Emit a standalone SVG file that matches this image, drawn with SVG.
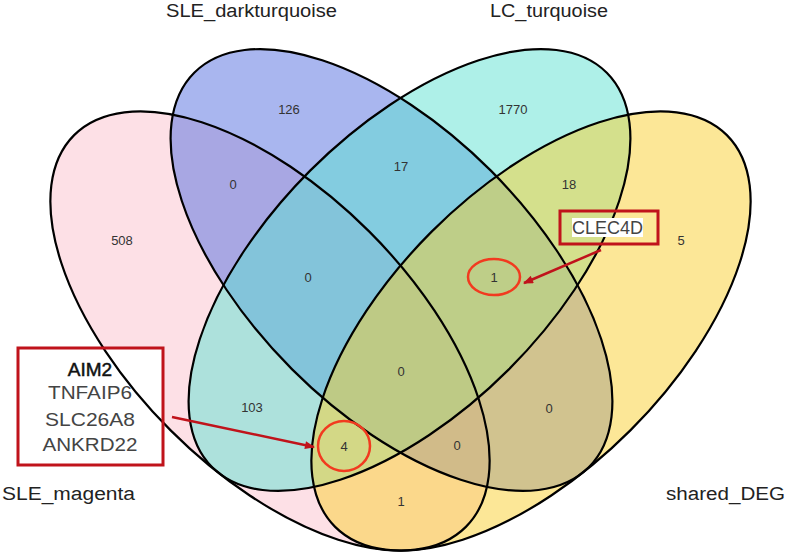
<svg xmlns="http://www.w3.org/2000/svg" width="788" height="556" viewBox="0 0 788 556">
  <defs>
    <style>
      .fill { fill-opacity: 0.5; stroke: none; }
      .edge { fill: none; stroke: #000; stroke-width: 2.2; }
      .num { font-family: "Liberation Sans", Arial, sans-serif; font-size: 13px; fill: #333; text-anchor: middle; }
      .set { font-family: "Liberation Sans", Arial, sans-serif; font-size: 18px; fill: #222; }
      .gene { font-family: "Liberation Sans", Arial, sans-serif; font-size: 19px; fill: #444; text-anchor: middle; }
      .strong { fill: #111; stroke: #111; stroke-width: 0.5; }
      .box { fill: none; stroke: #c0131b; stroke-width: 3; }
      .ring { fill: none; stroke: #f23a1f; stroke-width: 2.5; }
      .arrow { stroke: #c0131b; stroke-width: 2.5; fill: none; }
    </style>
    <marker id="ah" viewBox="0 0 10 8" refX="9" refY="4" markerWidth="11" markerHeight="8" markerUnits="userSpaceOnUse" orient="auto">
      <path d="M0,0 L10,4 L0,8 z" fill="#c0131b"/>
    </marker>
  </defs>

  <rect width="788" height="556" fill="#fff"/>

  <!-- fills -->
  <g id="fills">
    <ellipse class="fill" cx="270" cy="331" rx="277" ry="140.5" transform="rotate(45 270 331)" fill="#FBC1CD"/>
    <ellipse class="fill" cx="391.5" cy="270" rx="279" ry="140.5" transform="rotate(45 391.5 270)" fill="#536DDF"/>
    <ellipse class="fill" cx="409.5" cy="270" rx="279" ry="140.5" transform="rotate(-45 409.5 270)" fill="#5DE1D1"/>
    <ellipse class="fill" cx="531" cy="331" rx="277" ry="140.5" transform="rotate(-45 531 331)" fill="#FAD030"/>
  </g>

  <!-- white background of left annotation box -->
  <rect x="18" y="348" width="145" height="117" fill="#fff"/>

  <g id="SLE_magenta">
    <ellipse class="edge" cx="270" cy="331" rx="277" ry="140.5" transform="rotate(45 270 331)"/>
    <text class="set" x="2" y="500" textLength="133" lengthAdjust="spacingAndGlyphs">SLE_magenta</text>
  </g>
  <g id="SLE_darkturquoise">
    <ellipse class="edge" cx="391.5" cy="270" rx="279" ry="140.5" transform="rotate(45 391.5 270)"/>
    <text class="set" x="166" y="17" textLength="171" lengthAdjust="spacingAndGlyphs">SLE_darkturquoise</text>
  </g>
  <g id="LC_turquoise">
    <ellipse class="edge" cx="409.5" cy="270" rx="279" ry="140.5" transform="rotate(-45 409.5 270)"/>
    <text class="set" x="490" y="17" textLength="118" lengthAdjust="spacingAndGlyphs">LC_turquoise</text>
  </g>
  <g id="shared_DEG">
    <ellipse class="edge" cx="531" cy="331" rx="277" ry="140.5" transform="rotate(-45 531 331)"/>
    <text class="set" x="666" y="500" textLength="119" lengthAdjust="spacingAndGlyphs">shared_DEG</text>
  </g>

  <g id="counts">
    <text class="num" x="122" y="245">508</text>
    <text class="num" x="289" y="114">126</text>
    <text class="num" x="513" y="114">1770</text>
    <text class="num" x="681" y="245">5</text>
    <text class="num" x="233" y="189">0</text>
    <text class="num" x="401" y="171">17</text>
    <text class="num" x="569" y="189">18</text>
    <text class="num" x="308" y="282">0</text>
    <text class="num" x="494" y="282">1</text>
    <text class="num" x="401" y="376">0</text>
    <text class="num" x="252" y="412">103</text>
    <text class="num" x="549" y="413">0</text>
    <text class="num" x="344" y="451">4</text>
    <text class="num" x="457" y="450">0</text>
    <text class="num" x="401" y="506">1</text>
  </g>

  <g id="highlight-rings">
    <ellipse class="ring" cx="344" cy="446" rx="26" ry="25"/>
    <ellipse class="ring" cx="494" cy="277" rx="26" ry="18"/>
  </g>

  <g id="gene-box-left">
    <rect class="box" x="18" y="348" width="145" height="117"/>
    <text class="gene strong" x="90" y="376">AIM2</text>
    <text class="gene" x="90" y="399" textLength="84" lengthAdjust="spacingAndGlyphs">TNFAIP6</text>
    <text class="gene" x="90" y="426" textLength="90" lengthAdjust="spacingAndGlyphs">SLC26A8</text>
    <text class="gene" x="90" y="451" textLength="95" lengthAdjust="spacingAndGlyphs">ANKRD22</text>
  </g>

  <g id="gene-box-right">
    <rect class="box" x="560" y="211" width="98" height="33"/>
    <rect x="572" y="218" width="71" height="19" fill="#fff"/>
    <text class="gene" x="607.5" y="234" textLength="71" lengthAdjust="spacingAndGlyphs">CLEC4D</text>
  </g>

  <g id="connectors">
    <line class="arrow" x1="172" y1="417" x2="314" y2="447" marker-end="url(#ah)"/>
    <line class="arrow" x1="601" y1="250" x2="524" y2="283" marker-end="url(#ah)"/>
  </g>
</svg>
